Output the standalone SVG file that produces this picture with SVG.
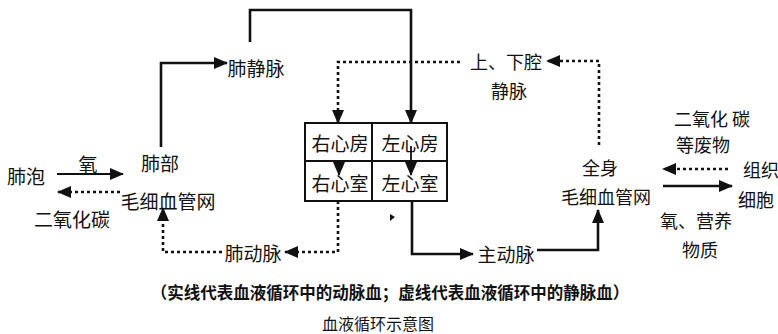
<svg xmlns="http://www.w3.org/2000/svg" width="778" height="334" viewBox="0 0 778 334">
<style>
text{font-family:"Noto Sans CJK SC","Noto Sans CJK JP",sans-serif;fill:#111;text-anchor:middle;dominant-baseline:central}
.l{font-size:19px}
.r{font-size:18px}
.cap{font-size:16.5px;font-weight:bold}
.ttl{font-size:16px}
.solid{fill:none;stroke:#111;stroke-width:2.6}
.thin{fill:none;stroke:#111;stroke-width:1.8}
.dash{fill:none;stroke:#111;stroke-width:2.6;stroke-dasharray:3 3}
.box{fill:#fff;stroke:#111;stroke-width:2}
</style>
<defs>
<marker id="ah" markerUnits="userSpaceOnUse" markerWidth="14" markerHeight="12" refX="13" refY="6" orient="auto">
<path d="M0,0 L14,6 L0,12 Z" fill="#111"/>
</marker>
</defs>
<rect width="778" height="334" fill="#fff"/>

<g id="heart">
<rect class="box" x="305" y="123" width="142" height="78"/>
<line class="box" x1="372" y1="123" x2="372" y2="201"/>
<line class="box" x1="305" y1="161" x2="447" y2="161"/>
</g>
<g id="ra"><text class="l" x="340" y="142">右心房</text></g>
<g id="la"><text class="l" x="410" y="142">左心房</text></g>
<g id="rv"><text class="l" x="340" y="182">右心室</text></g>
<g id="lv"><text class="l" x="410" y="182">左心室</text></g>

<g id="alveoli"><text class="l" x="26" y="175">肺泡</text></g>
<g id="o2-left"><text class="l" x="88" y="163">氧</text></g>
<g id="lung-cap">
<text class="l" x="160" y="162">肺部</text>
<text class="l" x="168" y="200">毛细血管网</text>
</g>
<g id="co2-left"><text class="l" x="72" y="218">二氧化碳</text></g>
<g id="pulm-vein"><text class="l" x="256" y="67">肺静脉</text></g>
<g id="pulm-artery"><text class="l" x="253" y="252">肺动脉</text></g>
<g id="aorta"><text class="l" x="506" y="253">主动脉</text></g>
<g id="vena-cava">
<text class="r" x="506" y="61">上、下腔</text>
<text class="r" x="509" y="90">静脉</text>
</g>
<g id="body-cap">
<text class="r" x="600" y="167">全身</text>
<text class="r" x="606" y="196">毛细血管网</text>
</g>
<g id="co2-right">
<text class="r" x="712" y="118">二氧化 碳</text>
<text class="r" x="703" y="144">等废物</text>
</g>
<g id="tissue">
<text class="r" x="761" y="169">组织</text>
<text class="r" x="756" y="199">细胞</text>
</g>
<g id="nutrients">
<text class="r" x="696" y="220">氧、营养</text>
<text class="r" x="700" y="249">物质</text>
</g>

<g id="connectors">
<line class="thin" x1="57" y1="174" x2="123" y2="174" marker-end="url(#ah)"/>
<line class="dash" x1="120" y1="192" x2="58" y2="192" marker-end="url(#ah)"/>
<polyline class="solid" points="161,147 161,63 227,63" marker-end="url(#ah)"/>
<polyline class="solid" points="250,42 250,10 411,10 411,123" marker-end="url(#ah)"/>
<line class="thin" x1="411" y1="146" x2="411" y2="175" marker-end="url(#ah)"/>
<line class="thin" x1="339" y1="161" x2="339" y2="175" marker-end="url(#ah)"/>
<polyline class="solid" points="412,201 412,254 473,254" marker-end="url(#ah)"/>
<polyline class="solid" points="537,250 598,250 598,210" marker-end="url(#ah)"/>
<line class="solid" x1="663" y1="186" x2="732" y2="186" marker-end="url(#ah)"/>
<polyline class="dash" points="460,62 338,62 338,123" marker-end="url(#ah)"/>
<polyline class="dash" points="338,201 338,252 285,252" marker-end="url(#ah)"/>
<polyline class="dash" points="222,252 163,252 163,208" marker-end="url(#ah)"/>
<polyline class="dash" points="599,145 599,61 547,61" marker-end="url(#ah)"/>
<line class="dash" x1="728" y1="169" x2="663" y2="169" marker-end="url(#ah)"/>
</g>
<path d="M390,214 L395,217 L390,221 Z" fill="#111"/>

<g id="legend">
<text class="cap" x="390" y="292">（实线代表血液循环中的动脉血；虚线代表血液循环中的静脉血）</text>
<text class="ttl" x="378" y="323">血液循环示意图</text>
</g>
</svg>
